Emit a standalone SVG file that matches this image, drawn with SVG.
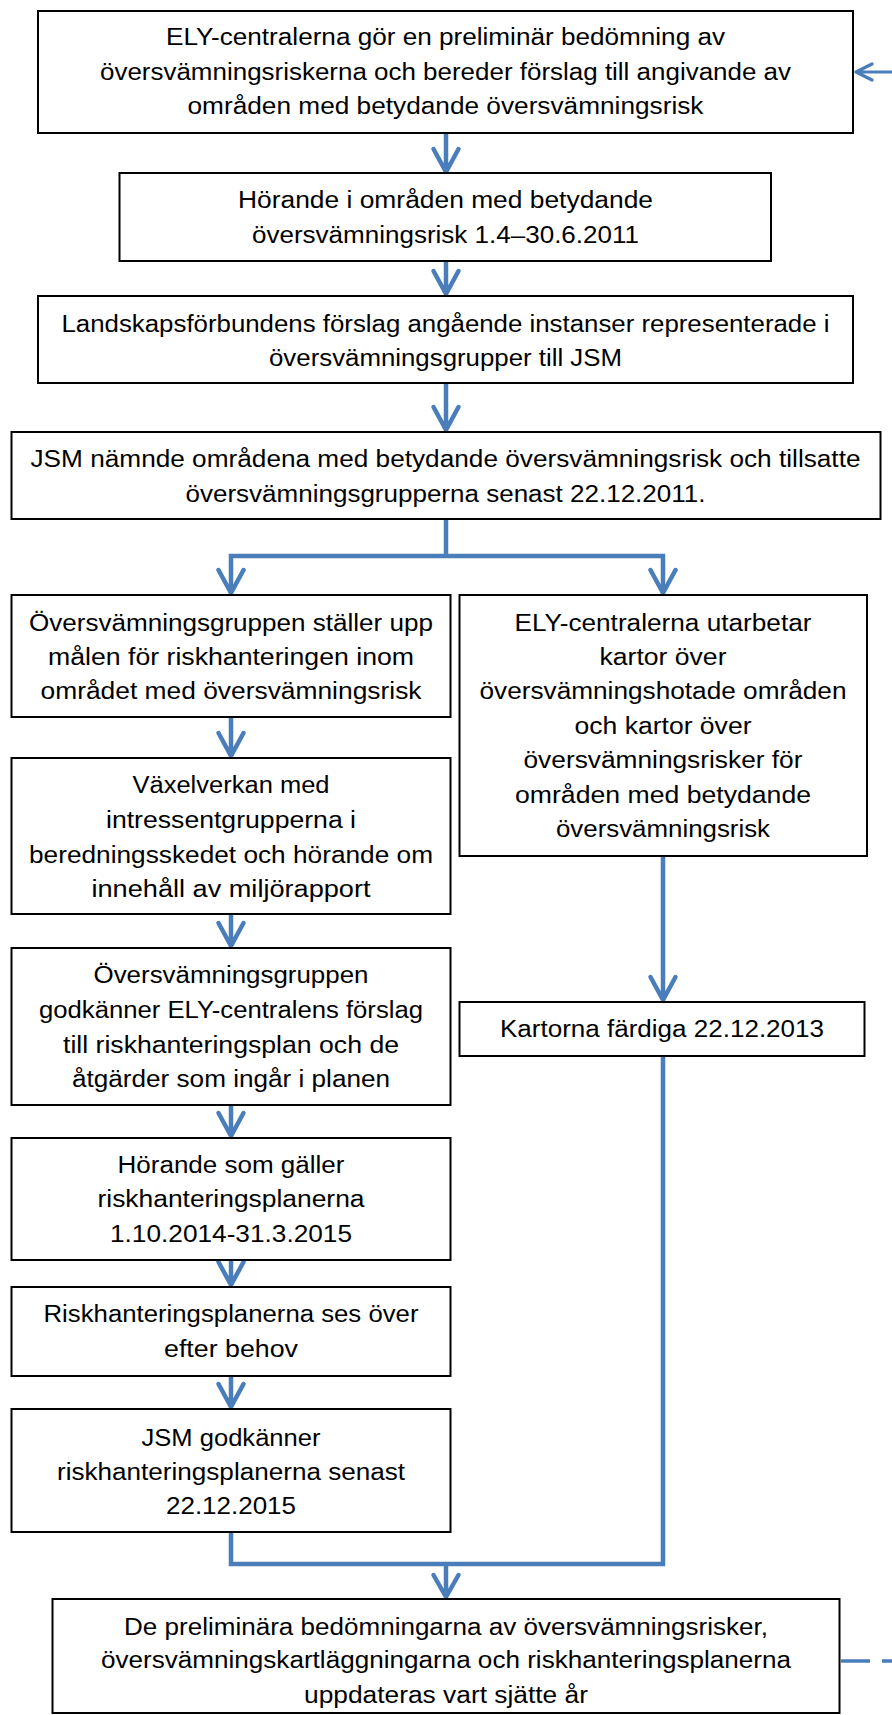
<svg xmlns="http://www.w3.org/2000/svg" width="892" height="1715" viewBox="0 0 892 1715">
<style>
rect.box{fill:#fff;stroke:#000;stroke-width:2}
text{font-family:"Liberation Sans",Arial,sans-serif;font-size:23px;fill:#000;text-anchor:middle}
.con{fill:none;stroke:#4A7EBB;stroke-width:4.5;stroke-linecap:round;stroke-linejoin:round}
.conb{fill:none;stroke:#4A7EBB;stroke-width:4.5;stroke-linecap:butt;stroke-linejoin:miter}
.thin{fill:none;stroke:#4A7EBB;stroke-width:3.2;stroke-linecap:round;stroke-linejoin:round}
</style>
<rect width="892" height="1715" fill="#fff"/>
<g id="connectors">
<path class="con" d="M446 134V172M433.5 149L446 172L458.5 149"/>
<path class="con" d="M446 262V294M433.5 271L446 294L458.5 271"/>
<path class="con" d="M446 384V430M433.5 407L446 430L458.5 407"/>
<path class="conb" d="M446 520V556M231 593V556H663V593"/>
<path class="con" d="M218.5 570L231 593L243.5 570M650.5 570L663 593L675.5 570"/>
<path class="con" d="M231 718V756M218.5 733L231 756L243.5 733"/>
<path class="con" d="M231 915V946M218.5 923L231 946L243.5 923"/>
<path class="con" d="M663 857V1000M650.5 977L663 1000L675.5 977"/>
<path class="con" d="M231 1106V1136M218.5 1113L231 1136L243.5 1113"/>
<path class="con" d="M231 1261V1285M218.5 1262L231 1285L243.5 1262"/>
<path class="con" d="M231 1377V1407M218.5 1384L231 1407L243.5 1384"/>
<path class="conb" d="M231 1533V1564H446M663 1057V1564H446"/>
<path class="con" d="M446 1564V1597M433.5 1575L446 1597L458.5 1575"/>
<path class="thin" d="M856 72H892M872 64L856 72L872 80"/>
<path fill="none" stroke="#4A7EBB" stroke-width="3.5" stroke-dasharray="29 12" d="M841 1661H892"/>
</g>
<g id="n1"><rect class="box" x="38" y="11" width="815" height="122"/>
<text x="445.5" y="45" textLength="559" lengthAdjust="spacingAndGlyphs">ELY-centralerna gör en preliminär bedömning av</text>
<text x="445.5" y="80" textLength="691" lengthAdjust="spacingAndGlyphs">översvämningsriskerna och bereder förslag till angivande av</text>
<text x="445.5" y="114" textLength="516" lengthAdjust="spacingAndGlyphs">områden med betydande översvämningsrisk</text></g>
<g id="n2"><rect class="box" x="119.5" y="173" width="651.5" height="88"/>
<text x="445.5" y="208" textLength="415" lengthAdjust="spacingAndGlyphs">Hörande i områden med betydande</text>
<text x="445.5" y="243" textLength="387" lengthAdjust="spacingAndGlyphs">översvämningsrisk 1.4–30.6.2011</text></g>
<g id="n3"><rect class="box" x="38" y="296" width="815" height="87"/>
<text x="445.5" y="332" textLength="768" lengthAdjust="spacingAndGlyphs">Landskapsförbundens förslag angående instanser representerade i</text>
<text x="445.5" y="366" textLength="353" lengthAdjust="spacingAndGlyphs">översvämningsgrupper till JSM</text></g>
<g id="n4"><rect class="box" x="11.5" y="432" width="869" height="87"/>
<text x="445.5" y="467" textLength="830" lengthAdjust="spacingAndGlyphs">JSM nämnde områdena med betydande översvämningsrisk och tillsatte</text>
<text x="445.5" y="502" textLength="520" lengthAdjust="spacingAndGlyphs">översvämningsgrupperna senast 22.12.2011.</text></g>
<g id="n5"><rect class="box" x="11.5" y="595" width="439" height="122"/>
<text x="231" y="631" textLength="404" lengthAdjust="spacingAndGlyphs">Översvämningsgruppen ställer upp</text>
<text x="231" y="665" textLength="366" lengthAdjust="spacingAndGlyphs">målen för riskhanteringen inom</text>
<text x="231" y="699" textLength="381" lengthAdjust="spacingAndGlyphs">området med översvämningsrisk</text></g>
<g id="n6"><rect class="box" x="459.5" y="595" width="407.5" height="261"/>
<text x="663" y="631" textLength="297" lengthAdjust="spacingAndGlyphs">ELY-centralerna utarbetar</text>
<text x="663" y="665" textLength="127" lengthAdjust="spacingAndGlyphs">kartor över</text>
<text x="663" y="699" textLength="367" lengthAdjust="spacingAndGlyphs">översvämningshotade områden</text>
<text x="663" y="734" textLength="177" lengthAdjust="spacingAndGlyphs">och kartor över</text>
<text x="663" y="768" textLength="279" lengthAdjust="spacingAndGlyphs">översvämningsrisker för</text>
<text x="663" y="803" textLength="296" lengthAdjust="spacingAndGlyphs">områden med betydande</text>
<text x="663" y="837" textLength="214" lengthAdjust="spacingAndGlyphs">översvämningsrisk</text></g>
<g id="n7"><rect class="box" x="11.5" y="758" width="439" height="156"/>
<text x="231" y="793" textLength="197" lengthAdjust="spacingAndGlyphs">Växelverkan med</text>
<text x="231" y="828" textLength="250" lengthAdjust="spacingAndGlyphs">intressentgrupperna i</text>
<text x="231" y="863" textLength="404" lengthAdjust="spacingAndGlyphs">beredningsskedet och hörande om</text>
<text x="231" y="897" textLength="279" lengthAdjust="spacingAndGlyphs">innehåll av miljörapport</text></g>
<g id="n8"><rect class="box" x="11.5" y="948" width="439" height="157"/>
<text x="231" y="983" textLength="275" lengthAdjust="spacingAndGlyphs">Översvämningsgruppen</text>
<text x="231" y="1018" textLength="384" lengthAdjust="spacingAndGlyphs">godkänner ELY-centralens förslag</text>
<text x="231" y="1053" textLength="336" lengthAdjust="spacingAndGlyphs">till riskhanteringsplan och de</text>
<text x="231" y="1087" textLength="318" lengthAdjust="spacingAndGlyphs">åtgärder som ingår i planen</text></g>
<g id="n9"><rect class="box" x="459.5" y="1002" width="405" height="54"/>
<text x="662" y="1037" textLength="324" lengthAdjust="spacingAndGlyphs">Kartorna färdiga 22.12.2013</text></g>
<g id="n10"><rect class="box" x="11.5" y="1138" width="439" height="122"/>
<text x="231" y="1173" textLength="227" lengthAdjust="spacingAndGlyphs">Hörande som gäller</text>
<text x="231" y="1207" textLength="267" lengthAdjust="spacingAndGlyphs">riskhanteringsplanerna</text>
<text x="231" y="1242" textLength="242" lengthAdjust="spacingAndGlyphs">1.10.2014-31.3.2015</text></g>
<g id="n11"><rect class="box" x="11.5" y="1287" width="439" height="89"/>
<text x="231" y="1322" textLength="375" lengthAdjust="spacingAndGlyphs">Riskhanteringsplanerna ses över</text>
<text x="231" y="1357" textLength="134" lengthAdjust="spacingAndGlyphs">efter behov</text></g>
<g id="n12"><rect class="box" x="11.5" y="1409" width="439" height="123"/>
<text x="231" y="1446" textLength="179" lengthAdjust="spacingAndGlyphs">JSM godkänner</text>
<text x="231" y="1480" textLength="348" lengthAdjust="spacingAndGlyphs">riskhanteringsplanerna senast</text>
<text x="231" y="1514" textLength="130" lengthAdjust="spacingAndGlyphs">22.12.2015</text></g>
<g id="n13"><rect class="box" x="52.5" y="1599" width="787" height="114"/>
<text x="446" y="1635" textLength="644" lengthAdjust="spacingAndGlyphs">De preliminära bedömningarna av översvämningsrisker,</text>
<text x="446" y="1668" textLength="690" lengthAdjust="spacingAndGlyphs">översvämningskartläggningarna och riskhanteringsplanerna</text>
<text x="446" y="1703" textLength="284" lengthAdjust="spacingAndGlyphs">uppdateras vart sjätte år</text></g>
</svg>
